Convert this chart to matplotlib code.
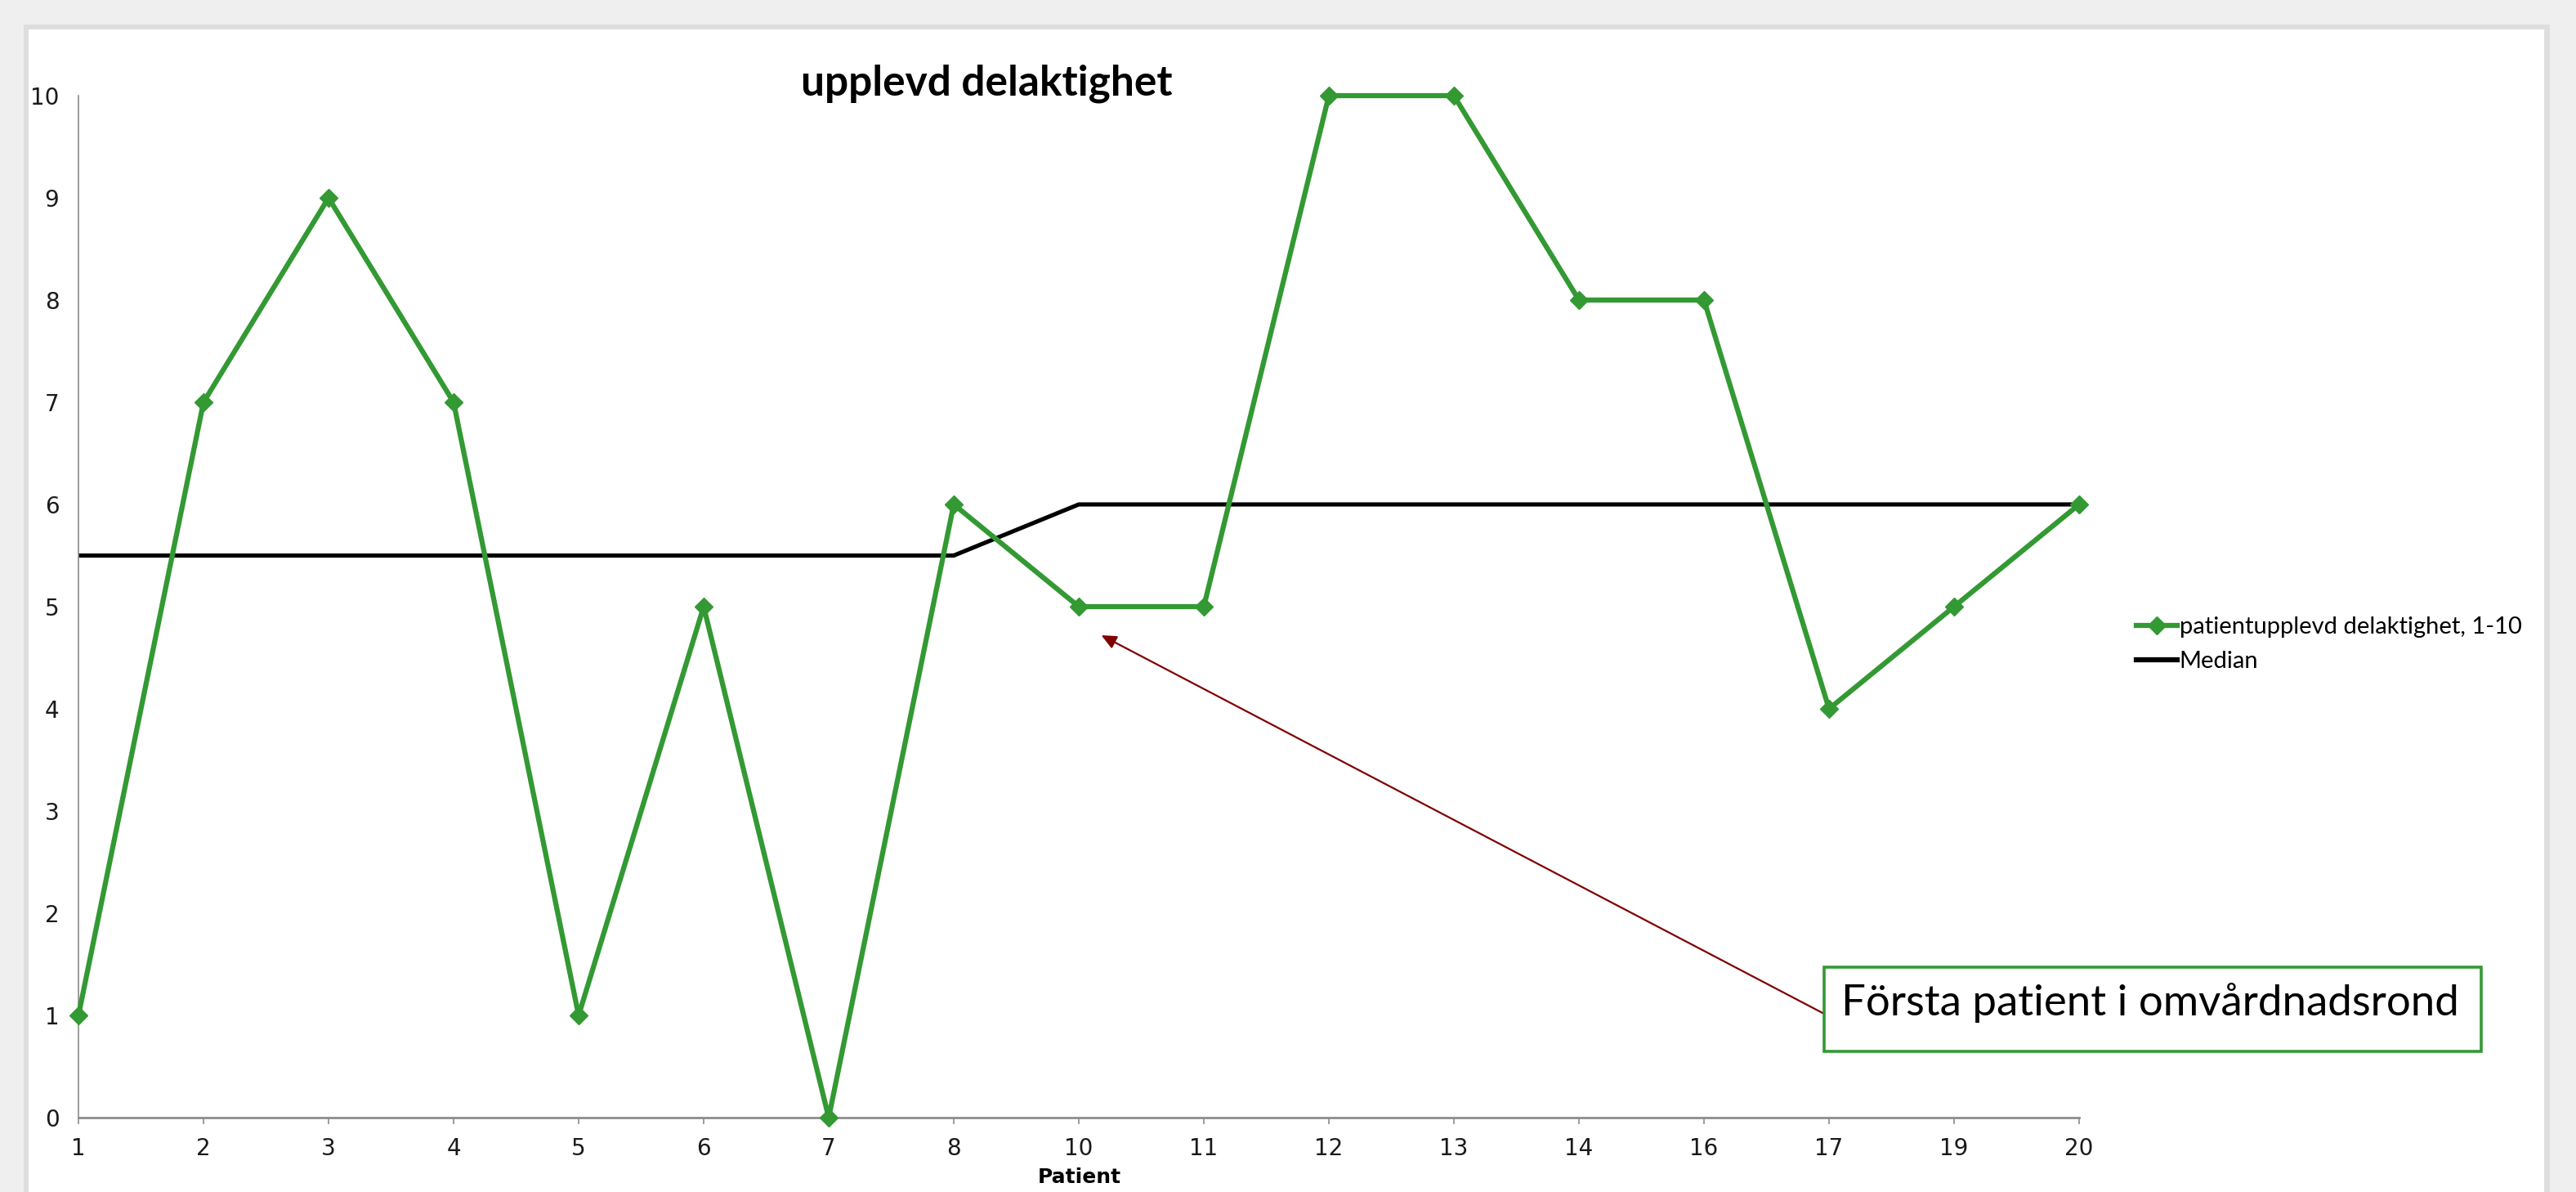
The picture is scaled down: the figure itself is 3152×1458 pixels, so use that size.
import matplotlib
matplotlib.use("Agg")
import matplotlib.pyplot as plt
from matplotlib.patches import Rectangle
from matplotlib.lines import Line2D
from matplotlib import font_manager

patients = ["1", "2", "3", "4", "5", "6", "7", "8", "10", "11", "12", "13", "14", "16", "17", "19", "20"]
delaktighet = [1, 7, 9, 7, 1, 5, 0, 6, 5, 5, 10, 10, 8, 8, 4, 5, 6]
median = [5.5, 5.5, 5.5, 5.5, 5.5, 5.5, 5.5, 5.5, 6, 6, 6, 6, 6, 6, 6, 6, 6]
yticks = [0, 1, 2, 3, 4, 5, 6, 7, 8, 9, 10]

names = {f.name for f in font_manager.fontManager.ttflist}
narrow = "Liberation Sans Narrow" if "Liberation Sans Narrow" in names else "DejaVu Sans Condensed" if "DejaVu Sans Condensed" in names else "DejaVu Sans"
main_font = "Lato" if "Lato" in names else "DejaVu Sans"

W, H = 3152, 1458
DPI = 100
fig = plt.figure(figsize=(W / DPI, H / DPI), dpi=DPI, facecolor="#efefef")

def fx(px):
    return px / W

def fy(py):
    return 1 - py / H

# border and white panel
fig.patches.append(Rectangle((fx(29), 0), fx(3120 - 29), fy(30), transform=fig.transFigure,
                             facecolor="#dedede", edgecolor="none", zorder=-3))
fig.patches.append(Rectangle((fx(35), 0), fx(3113 - 35), fy(36), transform=fig.transFigure,
                             facecolor="white", edgecolor="none", zorder=-2))

ax = fig.add_axes([fx(96), fy(1367), fx(2544 - 96), (1367 - 117) / H])
ax.set_facecolor("none")
x = list(range(len(patients)))
green = "#339933"
ax.plot(x, median, color="black", lw=3.7, solid_joinstyle="miter", zorder=2)
ax.plot(x, delaktighet, color=green, lw=4.5, marker="D", ms=11, mfc=green, mec=green, zorder=3,
        clip_on=False)

ax.set_xlim(0, len(patients) - 1)
ax.set_ylim(0, 10)
ax.set_xticks(x)
ax.set_xticklabels(patients)
ax.set_yticks(yticks)
for s in ["top", "right"]:
    ax.spines[s].set_visible(False)
ax.spines["left"].set_color("#8c8c8c")
ax.spines["bottom"].set_color("#8c8c8c")
ax.spines["left"].set_linewidth(1.2)
ax.spines["bottom"].set_linewidth(2.0)
ax.tick_params(axis="x", length=6, width=1.2, color="#8c8c8c", pad=11, labelsize=20)
ax.tick_params(axis="y", length=0, pad=17, labelsize=20)
for lab in ax.get_xticklabels() + ax.get_yticklabels():
    lab.set_fontfamily(narrow)
    lab.set_color("#1a1a1a")

fig.text(fx(1207), fy(102), "upplevd delaktighet", ha="center", va="center",
         fontsize=37, fontweight="bold", family=main_font)
fig.text(fx(1321), fy(1440), "Patient", ha="center", va="center",
         fontsize=18, fontweight="bold", family=narrow)

handles = [Line2D([], [], color=green, lw=4.5, marker="D", ms=11, mfc=green, mec=green),
           Line2D([], [], color="black", lw=4.5)]
leg = fig.legend(handles, ["patientupplevd delaktighet, 1-10", "Median"],
                 loc="center left", bbox_to_anchor=(fx(2588), fy(788)), frameon=False,
                 handlelength=1.7, handletextpad=0.1, labelspacing=0.55,
                 prop={"family": main_font, "size": 21})

# annotation box
fig.patches.append(Rectangle((fx(2232), fy(1286)), fx(3036 - 2232), (1286 - 1183) / H,
                             transform=fig.transFigure, facecolor="white", edgecolor=green,
                             lw=2.6, zorder=5))
fig.text(fx(2253), fy(1242), "Första patient i omvårdnadsrond", ha="left", va="baseline",
         fontsize=38, family=main_font, zorder=6)
ax.annotate("", xy=(8.18, 4.72), xycoords="data",
            xytext=(fx(2232), fy(1240)), textcoords="figure fraction",
            arrowprops=dict(arrowstyle="-|>,head_length=1.1,head_width=0.5", color="#800000",
                            lw=1.6, shrinkA=0, shrinkB=0), zorder=6)

fig.savefig("out.png", dpi=DPI, facecolor=fig.get_facecolor())
